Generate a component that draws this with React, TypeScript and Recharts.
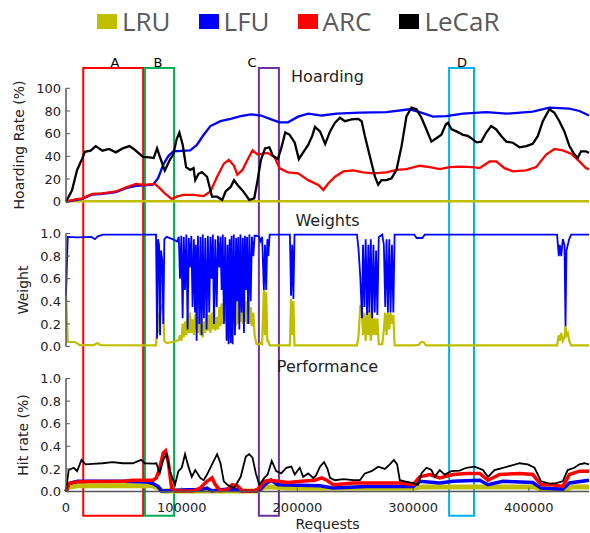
import React from "react";
import { LineChart, Line, XAxis, YAxis, ReferenceArea, ReferenceDot } from "recharts";

type Pt = [number, number];

const X_MAX = 452000;
const xTicks = [0, 100000, 200000, 300000, 400000];
const hoardTicks = [0, 20, 40, 60, 80, 100];
const unitTicks = [0, 0.2, 0.4, 0.6, 0.8, 1.0];

const policies = ["LRU", "LFU", "ARC", "LeCaR"];
const colors: Record<string, string> = { LRU: "#bfbf00", LFU: "#0000ff", ARC: "#ff0000", LeCaR: "#000000" };

// Hoarding rate (%)
const hoardLRU: Pt[] = [[0, 0], [5000, 0.5], [452000, 0.5]];
const hoardLFU: Pt[] = [
  [0, 0], [8200, 1.5], [14000, 2.5], [22700, 6.3], [31500, 7], [43100, 8.5], [51900, 12], [60600, 14],
  [75200, 15], [79600, 20.7], [84000, 32.6], [88300, 40], [92700, 44.4], [107300, 45.3], [113100, 50],
  [119000, 59], [124800, 66.7], [133500, 71], [142300, 73], [151000, 75.5], [159800, 77], [168500, 76],
  [177300, 72.6], [184500, 70], [191800, 70], [200600, 75], [209300, 77.6], [221000, 76], [234000, 77.6],
  [254000, 78.5], [277000, 79], [297000, 81.5], [305700, 79], [317200, 75], [328700, 75.5], [343100, 77.6],
  [363200, 79], [380500, 77.6], [403400, 79.4], [417800, 83], [435100, 82], [443700, 80], [452000, 76],
];
const hoardARC: Pt[] = [
  [0, 0], [8200, 2], [14000, 3], [22700, 6.8], [31500, 7.4], [43100, 9], [51900, 12.7], [60600, 15.7],
  [66500, 14.8], [76700, 15.7], [81000, 12], [85400, 7.4], [91300, 2.4], [95600, 4.4], [101500, 6],
  [110200, 6], [119000, 5], [124800, 9], [130600, 22], [136400, 33.5], [140800, 37], [145200, 31.7],
  [148100, 23.7], [152500, 28], [156900, 37], [161200, 45.3], [165600, 41.5], [174300, 43], [180200, 39.4],
  [184500, 29.6], [191800, 25.8], [200600, 25], [209300, 19], [218100, 14.8], [222400, 10.4], [226800, 16.3],
  [232500, 22], [239700, 26.7], [248300, 27.6], [256900, 25.8], [265500, 25], [277000, 25.8], [285600, 28],
  [294300, 28.7], [305700, 31.7], [314400, 30.5], [323000, 28.7], [331600, 30.5], [340200, 31], [351700, 30.5],
  [357500, 29.6], [366100, 35.5], [371800, 35.5], [379000, 29.6], [386200, 26.7], [397700, 27.6], [406300, 30.5],
  [415000, 41.5], [422100, 46.5], [429300, 45.3], [436500, 42.4], [443700, 35.5], [449400, 29.6], [452000, 28.7],
];
const hoardLeCaR: Pt[] = [
  [0, 0], [5200, 10], [9600, 28], [14000, 38], [16300, 44], [21300, 45], [25700, 49], [31500, 45], [37300, 46.5],
  [43000, 43.5], [49000, 47], [54800, 49], [59200, 46], [66500, 39.5], [72300, 39], [75800, 38.5], [78700, 47],
  [81000, 40], [85400, 27.5], [89800, 37], [92700, 41.5], [95600, 55], [98000, 61], [100900, 50], [103800, 30.5],
  [107300, 28], [110200, 29.6], [111700, 19], [114600, 24.6], [117500, 26], [121900, 22], [126200, 4.4],
  [130600, 4.4], [135000, 1.5], [137900, 9], [142300, 13], [145200, 19], [148100, 15], [152500, 10], [155400, 6],
  [158300, 1.5], [162700, 3], [165600, 19], [168500, 37], [172000, 47], [175800, 48], [178700, 40.6],
  [183100, 37.6], [186000, 47], [189500, 61], [193300, 59], [197700, 52], [201200, 37.6], [205000, 43.5],
  [209300, 50], [212800, 58], [215200, 66], [219500, 62], [224000, 51], [228200, 62], [232500, 69.6],
  [236800, 74], [241100, 71], [246800, 72.6], [252600, 73], [255500, 71], [258300, 58], [262600, 40],
  [267000, 22], [269800, 15], [272700, 19], [277000, 19], [281300, 20.7], [285600, 28], [290000, 49],
  [294300, 75.5], [298600, 83], [302900, 81.5], [307200, 74], [311500, 63.7], [315800, 53], [320100, 56],
  [324400, 59], [328200, 68], [330200, 69.6], [333000, 64], [337400, 62], [343100, 59], [347400, 58],
  [351700, 55], [354600, 52.4], [358900, 53], [363200, 61], [367500, 66.7], [371800, 63.7], [376100, 58],
  [380500, 53], [386200, 52], [392000, 48], [397700, 49], [403400, 51], [407800, 58], [412100, 71],
  [417800, 81.5], [422100, 78.5], [426400, 71], [430700, 62], [435100, 49], [438500, 43], [442200, 38.5],
  [445100, 44.4], [449400, 44.4], [452000, 43],
];

// Weights
const weightLFU: Pt[] = [
  [0, 0.45], [1500, 0.97], [10000, 0.965], [22000, 0.97], [25000, 0.95], [27500, 0.975], [32000, 0.99],
  [77800, 0.99], [78700, 0.07], [79500, 0.95], [80400, 0.9], [81300, 0.1], [82100, 0.85], [83300, 0.75],
  [84100, 0.2], [85000, 0.95], [87000, 0.97], [92000, 0.95], [96000, 0.93], [97500, 0.97],
  [98500, 0.6], [99700, 0.98], [100800, 0.25], [101800, 0.97], [102800, 0.5], [104000, 0.99], [105100, 0.15],
  [106100, 0.96], [107100, 0.7], [108300, 0.98], [109400, 0.35], [110500, 0.95], [111500, 0.3], [112200, 0.9],
  [112900, 0.05], [114000, 0.98], [115200, 0.2], [116200, 0.97], [117200, 0.1], [118200, 0.99], [119200, 0.25],
  [120400, 0.96], [121500, 0.15], [122600, 0.98], [123800, 0.3], [124800, 0.97], [125900, 0.6], [126900, 0.99],
  [127900, 0.2], [129000, 0.95], [130200, 0.35], [131300, 0.98], [132500, 0.7], [133500, 0.97], [134500, 0.5],
  [135500, 0.99], [136500, 0.2], [137600, 0.97], [138800, 0.05], [139600, 0.9], [140500, 0.02], [141400, 0.95],
  [142300, 0.03], [143100, 0.98], [144000, 0.02], [145000, 0.99], [146000, 0.1], [147000, 0.96], [148000, 0.4],
  [148900, 0.97], [149800, 0.15], [150800, 0.99], [151800, 0.3], [152800, 0.96], [153800, 0.12], [154600, 0.98],
  [155500, 0.5], [156500, 0.97], [157500, 0.2], [158500, 0.99], [159600, 0.4], [160700, 0.97], [161900, 0.8],
  [163000, 0.98], [164700, 0.98], [167000, 0.97], [168000, 0.93], [169500, 0.97], [171000, 0.5], [172000, 0.9],
  [173000, 0.5], [174000, 0.95], [174800, 0.8], [176000, 0.99], [193500, 0.99], [194500, 0.45], [195500, 0.9],
  [196500, 0.42], [197500, 0.99],
  [251500, 0.99], [252900, 0.85], [254400, 0.6], [255800, 0.25], [256700, 0.9], [257900, 0.35], [259000, 0.95],
  [260200, 0.28], [261300, 0.9], [262200, 0.3], [263400, 0.95], [264500, 0.25], [265700, 0.9], [266800, 0.3],
  [268000, 0.85], [269100, 0.28], [270300, 0.97], [273300, 0.99], [274700, 0.9], [275900, 0.35], [277000, 0.95],
  [278200, 0.3], [279400, 0.95], [280500, 0.3], [281700, 0.9], [282900, 0.3], [284000, 0.99], [301000, 0.99],
  [303000, 0.96], [308000, 0.96], [310000, 0.99], [424400, 0.99], [425900, 0.8], [426800, 0.9], [428000, 0.8],
  [429400, 0.95], [430800, 0.9], [431700, 0.18], [432500, 0.85], [433700, 0.9], [434900, 0.95], [436600, 0.99],
  [452000, 0.99],
];
const weightLRU: Pt[] = [
  [0, 0.45], [1500, 0.04], [8000, 0.04], [12000, 0.012], [24000, 0.012], [27000, 0.03], [30000, 0.012],
  [77800, 0.01], [78700, 0.15], [79500, 0.12], [80400, 0.3], [81300, 0.28], [82100, 0.35], [83300, 0.37],
  [84100, 0.3], [85000, 0.05], [87000, 0.03], [92000, 0.04], [96000, 0.05], [97500, 0.06],
  [98500, 0.1], [99700, 0.05], [100800, 0.2], [101800, 0.08], [102800, 0.22], [104000, 0.1], [105100, 0.27],
  [106100, 0.12], [107100, 0.3], [108300, 0.12], [109400, 0.24], [110500, 0.1], [111500, 0.28], [112200, 0.15],
  [112900, 0.3], [114000, 0.12], [115200, 0.26], [116200, 0.1], [117200, 0.2], [118200, 0.08], [119200, 0.22],
  [120400, 0.12], [121500, 0.3], [122600, 0.14], [123800, 0.28], [124800, 0.12], [125900, 0.3], [126900, 0.15],
  [127900, 0.33], [129000, 0.14], [130200, 0.26], [131300, 0.15], [132500, 0.35], [133500, 0.18], [134500, 0.38],
  [135500, 0.2], [136500, 0.42], [137600, 0.22], [138800, 0.47], [139600, 0.25], [140500, 0.4], [141400, 0.2],
  [142300, 0.45], [143100, 0.22], [144000, 0.44], [145000, 0.2], [146000, 0.36], [147000, 0.18], [148000, 0.42],
  [148900, 0.2], [149800, 0.4], [150800, 0.22], [151800, 0.38], [152800, 0.2], [153800, 0.45], [154600, 0.22],
  [155500, 0.4], [156500, 0.2], [157500, 0.42], [158500, 0.2], [159600, 0.35], [160700, 0.18], [161900, 0.3],
  [163000, 0.1], [164700, 0.02], [167000, 0.02], [168000, 0.03], [169500, 0.02], [171000, 0.5], [172000, 0.1],
  [173000, 0.48], [174000, 0.05], [174800, 0.05], [176000, 0.01], [193500, 0.01], [194500, 0.42], [195500, 0.1],
  [196500, 0.4], [197500, 0.01],
  [251500, 0.01], [252900, 0.1], [254400, 0.37], [255800, 0.3], [256700, 0.1], [257900, 0.3], [259000, 0.05],
  [260200, 0.28], [261300, 0.1], [262200, 0.32], [263400, 0.05], [264500, 0.3], [265700, 0.1], [266800, 0.25],
  [268000, 0.1], [269100, 0.25], [270300, 0.02], [273300, 0.02], [274700, 0.15], [275900, 0.3], [277000, 0.1],
  [278200, 0.3], [279400, 0.15], [280500, 0.3], [281700, 0.2], [282900, 0.28], [284000, 0.01], [301000, 0.01],
  [305000, 0.015], [307000, 0.04], [309000, 0.04], [311000, 0.01], [424400, 0.01], [425900, 0.1], [426800, 0.05],
  [428000, 0.12], [429400, 0.05], [430800, 0.08], [431700, 0.18], [432500, 0.1], [433700, 0.12], [434900, 0.05],
  [436600, 0.01], [452000, 0.01],
];

// Hit rate
const hitLRU: Pt[] = [
  [0, 0], [2300, 0.04], [10000, 0.05], [75000, 0.05], [80000, 0.03], [83000, 0.005], [165000, 0.005],
  [172000, 0.04], [180000, 0.04], [190000, 0.03], [300000, 0.03], [306000, 0.04], [405000, 0.04],
  [411000, 0.02], [432000, 0.02], [438000, 0.04], [452000, 0.04],
];
const hitLFU: Pt[] = [
  [0, 0], [2300, 0.07], [10000, 0.09], [50000, 0.09], [70000, 0.085], [75200, 0.07], [79500, 0.045],
  [82500, 0.005], [105000, 0.015], [116000, 0.015], [121900, 0.03], [126000, 0.005], [138000, 0.02],
  [146000, 0.02], [152000, 0.005], [165000, 0.005], [168000, 0.02], [172900, 0.07], [177300, 0.1],
  [183100, 0.06], [219500, 0.05], [231000, 0.03], [260000, 0.045], [300000, 0.045], [305700, 0.09],
  [323000, 0.075], [334500, 0.09], [357500, 0.1], [364700, 0.06], [377600, 0.09], [403400, 0.08],
  [410600, 0.03], [429300, 0.02], [435100, 0.075], [452000, 0.1],
];
const hitARC: Pt[] = [
  [0, 0], [2300, 0.07], [6700, 0.083], [20000, 0.088], [50000, 0.09], [57700, 0.1], [75200, 0.1], [78100, 0.12],
  [81000, 0.21], [84000, 0.34], [86000, 0.36], [88300, 0.27], [91300, 0.03], [94200, 0.005], [110200, 0.005],
  [116000, 0.03], [121900, 0.09], [126200, 0.12], [129100, 0.06], [133500, 0.005], [139000, 0.015],
  [143700, 0.06], [148100, 0.05], [152500, 0.005], [162700, 0.005], [167100, 0.03], [171400, 0.09],
  [175800, 0.1], [183100, 0.09], [191800, 0.08], [203500, 0.09], [215200, 0.1], [221000, 0.12], [225300, 0.1],
  [231000, 0.06], [248300, 0.075], [277000, 0.075], [288500, 0.075], [300000, 0.06], [305700, 0.13],
  [314400, 0.15], [323000, 0.12], [334500, 0.15], [346000, 0.16], [357500, 0.16], [364700, 0.1], [374700, 0.15],
  [392000, 0.16], [403400, 0.15], [410600, 0.06], [420700, 0.06], [429300, 0.045], [435100, 0.15],
  [443700, 0.18], [452000, 0.18],
];
const hitLeCaR: Pt[] = [
  [0, 0], [2300, 0.19], [6700, 0.21], [9600, 0.18], [13400, 0.28], [16900, 0.24], [22700, 0.245], [31500, 0.25],
  [40200, 0.26], [49000, 0.25], [57700, 0.25], [65000, 0.28], [67900, 0.25], [75200, 0.247], [78100, 0.25],
  [81000, 0.16], [84000, 0.28], [86900, 0.33], [89800, 0.18], [94200, 0.06], [97100, 0.18], [100000, 0.21],
  [102900, 0.33], [105800, 0.22], [108700, 0.13], [111700, 0.19], [116000, 0.12], [119000, 0.1], [121900, 0.15],
  [126200, 0.24], [130600, 0.33], [133500, 0.25], [136400, 0.09], [139400, 0.06], [145200, 0.03], [151000, 0.13],
  [155400, 0.31], [158300, 0.33], [161200, 0.3], [164100, 0.16], [167100, 0.06], [171400, 0.12], [174300, 0.15],
  [177800, 0.27], [181600, 0.18], [186000, 0.16], [190400, 0.21], [194800, 0.22], [197700, 0.15], [202000, 0.21],
  [205000, 0.13], [209300, 0.16], [213700, 0.12], [216000, 0.14], [219500, 0.22], [223000, 0.26], [226000, 0.2],
  [228200, 0.12], [232500, 0.1], [239700, 0.11], [248300, 0.1], [254000, 0.1], [258300, 0.16], [264100, 0.18],
  [269800, 0.22], [275600, 0.2], [279900, 0.24], [283300, 0.28], [286200, 0.24], [288500, 0.1], [292800, 0.09],
  [300000, 0.075], [304300, 0.06], [307200, 0.16], [311500, 0.21], [315800, 0.19], [318700, 0.13], [323000, 0.19],
  [327300, 0.15], [333000, 0.18], [340200, 0.185], [346000, 0.21], [353200, 0.22], [360300, 0.19], [364700, 0.13],
  [370400, 0.19], [377600, 0.21], [384800, 0.23], [392000, 0.25], [399100, 0.24], [404900, 0.21], [410600, 0.09],
  [417800, 0.07], [423600, 0.075], [429300, 0.09], [433600, 0.19], [439400, 0.21], [443700, 0.24], [448100, 0.25],
  [452000, 0.24],
];

const boxes = [
  { name: "A", x1: 14900, x2: 66700, labelX: 42300, color: "#ff0000" },
  { name: "B", x1: 68200, x2: 93400, labelX: 79500, color: "#00b050" },
  { name: "C", x1: 166700, x2: 184000, labelX: 160800, color: "#7030a0" },
  { name: "D", x1: 331100, x2: 352600, labelX: 342300, color: "#00b0f0" },
];

const pts = (a: Pt[]) => a.map(([x, y]) => ({ x, y }));

const FONT = "'DejaVu Sans', sans-serif";
const AXIS = "#555";
const TXT = "#222";
const tickStyle = { fontSize: 13, fill: TXT, fontFamily: FONT };

function axes(yDomain: number[], yTicks: number[], fmt: (v: number) => string, yLabel: string, labelOffset: number, showX: boolean) {
  return [
    <XAxis key="xb" type="number" dataKey="x" domain={[0, X_MAX]} ticks={xTicks} height={showX ? 30 : 0}
      tickSize={-4} tickMargin={15} tickLine={{ stroke: AXIS }} axisLine={{ stroke: AXIS, strokeWidth: 1.5 }}
      tick={tickStyle} tickFormatter={showX ? (v: number) => String(v) : () => ""} interval={0} />,
    <XAxis key="xt" xAxisId="t" orientation="top" type="number" dataKey="x" domain={[0, X_MAX]} ticks={xTicks}
      height={0} tickSize={-4} tickLine={{ stroke: AXIS }} axisLine={{ stroke: AXIS, strokeWidth: 1.5 }}
      tick={tickStyle} tickFormatter={() => ""} interval={0} />,
    <YAxis key="yl" type="number" domain={yDomain} ticks={yTicks} width={58} tickSize={-4} tickMargin={9}
      tickLine={{ stroke: AXIS }} axisLine={{ stroke: AXIS, strokeWidth: 1.5 }} tick={tickStyle}
      tickFormatter={fmt} interval={0}
      label={{ value: yLabel, angle: -90, position: "insideLeft", offset: labelOffset,
        style: { textAnchor: "middle", fontSize: 14, fill: TXT, fontFamily: FONT } }} />,
    <YAxis key="yr" yAxisId="r" orientation="right" type="number" domain={yDomain} ticks={yTicks} width={0}
      tickSize={-4} tickLine={{ stroke: AXIS }} axisLine={{ stroke: AXIS, strokeWidth: 1.5 }}
      tick={tickStyle} tickFormatter={() => ""} interval={0} />,
  ];
}

function series(list: { name: string; data: Pt[]; width: number }[]) {
  return list.map((s) => (
    <Line key={s.name} data={pts(s.data)} dataKey="y" type="linear" stroke={colors[s.name]}
      strokeWidth={s.width} dot={false} activeDot={false} isAnimationActive={false} />
  ));
}

function boxAreas(lo: number, hi: number) {
  return boxes.map((b) => (
    <ReferenceArea key={b.name} x1={b.x1} x2={b.x2} y1={lo} y2={hi} ifOverflow="visible"
      fill="none" fillOpacity={0} stroke={b.color} strokeWidth={2} />
  ));
}

const Title = ({ text, top }: { text: string; top: number }) => (
  <div style={{ position: "absolute", left: 327.5, top, transform: "translateX(-50%)", fontFamily: FONT,
    fontSize: 16, lineHeight: "16px", color: TXT, whiteSpace: "nowrap" }}>{text}</div>
);

const Panel = ({ top, height, children }: { top: number; height: number; children: React.ReactNode }) => (
  <div style={{ position: "absolute", left: 0, top, width: 590, height, overflow: "hidden" }}>{children}</div>
);

export default function App() {
  const fmt1 = (v: number) => v.toFixed(1);
  return (
    <div style={{ position: "absolute", left: 0, top: 0, width: 590, height: 533, background: "#fff", overflow: "hidden" }}>
      <div style={{ position: "absolute", left: 97, top: 4, display: "flex", gap: 28, alignItems: "center",
        fontFamily: "'Open Sans', sans-serif", fontSize: 26, color: "#595959", height: 34 }}>
        {policies.map((p) => (
          <div key={p} style={{ display: "flex", alignItems: "center" }}>
            <span style={{ display: "inline-block", width: 20, height: 15, background: colors[p], marginRight: 5 }} />
            <span>{p}</span>
          </div>
        ))}
      </div>

      <Panel top={40} height={170}>
        <LineChart width={590} height={170} margin={{ top: 48.3, right: 1, bottom: 8.3, left: 8 }}>
          {axes([0, 100], hoardTicks, (v) => String(v), "Hoarding Rate (%)", 10.7, false)}
          {series([
            { name: "LRU", data: hoardLRU, width: 2.5 },
            { name: "LFU", data: hoardLFU, width: 2.3 },
            { name: "ARC", data: hoardARC, width: 2.3 },
            { name: "LeCaR", data: hoardLeCaR, width: 2.3 },
          ])}
          {boxAreas(-1000, 117.9)}
          {boxes.map((b) => (
            <ReferenceDot key={"l" + b.name} x={b.labelX} y={122.8} r={0} ifOverflow="visible" fill="none" stroke="none"
              label={{ value: b.name, position: "center", fill: "#000", fontSize: 13, fontFamily: FONT }} />
          ))}
        </LineChart>
      </Panel>

      <Panel top={210} height={145}>
        <LineChart width={590} height={145} margin={{ top: 23.5, right: 1, bottom: 8.5, left: 8 }}>
          {axes([0, 1], unitTicks, fmt1, "Weight", 15.5, false)}
          {series([
            { name: "LRU", data: weightLRU, width: 2.2 },
            { name: "LFU", data: weightLFU, width: 1.8 },
          ])}
          {boxAreas(-10, 10)}
        </LineChart>
      </Panel>

      <Panel top={355} height={178}>
        <LineChart width={590} height={178} margin={{ top: 23.5, right: 1, bottom: 11.5, left: 8 }}>
          {axes([0, 1], unitTicks, fmt1, "Hit rate (%)", 15.5, true)}
          {series([
            { name: "LRU", data: hitLRU, width: 5 },
            { name: "LFU", data: hitLFU, width: 3.5 },
            { name: "ARC", data: hitARC, width: 3.5 },
            { name: "LeCaR", data: hitLeCaR, width: 1.8 },
          ])}
          {boxAreas(-0.214, 10)}
        </LineChart>
      </Panel>

      <Title text="Hoarding" top={68.5} />
      <Title text="Weights" top={213} />
      <Title text="Performance" top={358.5} />
      <div style={{ position: "absolute", left: 327.5, top: 517, transform: "translateX(-50%)", fontFamily: FONT,
        fontSize: 14, lineHeight: "14px", color: TXT }}>Requests</div>
    </div>
  );
}
